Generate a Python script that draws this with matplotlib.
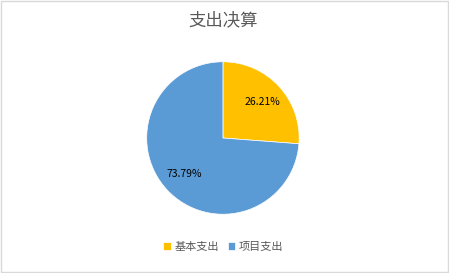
import matplotlib
matplotlib.use("Agg")
from matplotlib import pyplot as plt
from matplotlib.patches import Rectangle

plt.rcParams['font.family'] = ['Noto Sans CJK SC', 'DejaVu Sans']

# data
categories = ["基本支出", "项目支出"]
shares = [26.21, 73.79]
colors = ["#FFC000", "#5B9BD5"]
title = "支出决算"

fig = plt.figure(figsize=(4.49, 2.73), dpi=100, facecolor="white")
fig.patches.append(Rectangle((0.002, 0.004), 0.995, 0.992, transform=fig.transFigure,
                             fill=False, edgecolor="#d9d9d9", linewidth=1))

ax = fig.add_axes([0.325, 0.2125, 0.343, 0.564])
wedges, texts, autotexts = ax.pie(shares, colors=colors, startangle=90, counterclock=False,
                                  autopct="%.2f%%", pctdistance=0.7,
                                  wedgeprops=dict(edgecolor="white", linewidth=0.5))
for t in autotexts:
    t.set_fontsize(7.5)
    t.set_color("black")
ax.set_xlim(-1.01, 1.01)
ax.set_ylim(-1.01, 1.01)
ax.set_aspect("equal")

fig.text(0.497, 0.925, title, ha="center", va="center", fontsize=12.5, color="#595959")

fig.legend(wedges, categories, loc="center", bbox_to_anchor=(0.497, 0.095), ncol=2,
           frameon=False, fontsize=8, handlelength=0.7, handleheight=0.7,
           handletextpad=0.3, columnspacing=0.8, labelcolor="#595959")

fig.savefig("out.png", dpi=100)
